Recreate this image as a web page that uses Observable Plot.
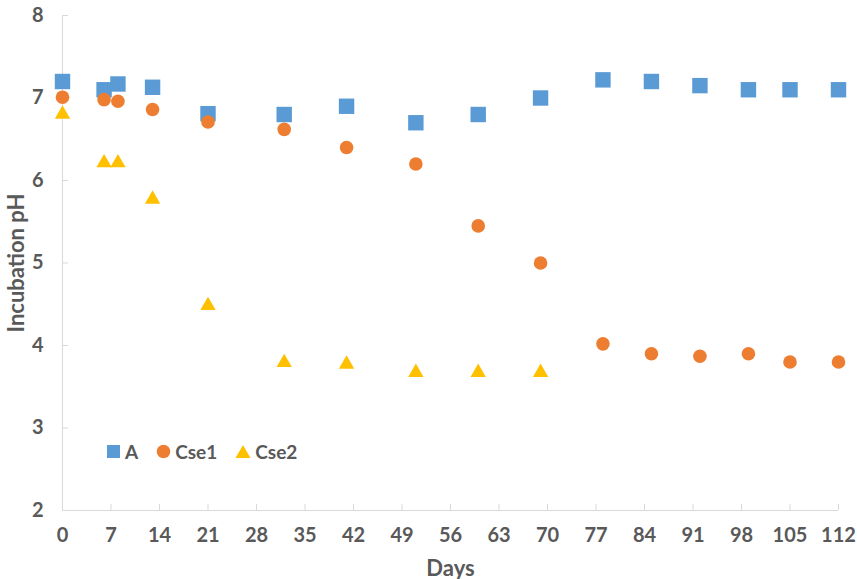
<!DOCTYPE html>
<html>
<head>
<meta charset="utf-8">
<script src="https://cdn.jsdelivr.net/npm/d3@7"></script>
<script src="https://cdn.jsdelivr.net/npm/@observablehq/plot@0.6"></script>
<style>
  html, body { margin: 0; padding: 0; background: #fff; }
  #wrap { position: relative; width: 857px; height: 579px; font-family: Lato, "Open Sans", sans-serif; }
  #legend { position: absolute; left: 106px; top: 440px; display: flex; align-items: center; font: bold 19px Lato, "Open Sans", sans-serif; color: #595959; }
  #legend .item { display: flex; align-items: center; margin-right: 18px; }
  #legend svg { margin-right: 4px; }
</style>
</head>
<body>
<div id="wrap"><div id="legend"></div></div>
<script>
// Data
const daysA = [0, 6, 8, 13, 21, 32, 41, 51, 60, 69, 78, 85, 92, 99, 105, 112];
const phA   = [7.20, 7.10, 7.17, 7.13, 6.81, 6.80, 6.90, 6.70, 6.80, 7.00, 7.22, 7.20, 7.15, 7.10, 7.10, 7.10];
const daysCse1 = [0, 6, 8, 13, 21, 32, 41, 51, 60, 69, 78, 85, 92, 99, 105, 112];
const phCse1   = [7.01, 6.98, 6.96, 6.86, 6.71, 6.62, 6.40, 6.20, 5.45, 5.00, 4.02, 3.90, 3.87, 3.90, 3.80, 3.80];
const daysCse2 = [0, 6, 8, 13, 21, 32, 41, 51, 60, 69];
const phCse2   = [6.83, 6.24, 6.24, 5.80, 4.51, 3.82, 3.80, 3.70, 3.70, 3.70];
const seriesNames = ["A", "Cse1", "Cse2"];
const seriesColors = ["#5B9BD5", "#ED7D31", "#FFC000"];
const xTicks = [0, 7, 14, 21, 28, 35, 42, 49, 56, 63, 70, 77, 84, 91, 98, 105, 112];
const yTicks = [2, 3, 4, 5, 6, 7, 8];

const toRows = (xs, ys) => xs.map((d, i) => ({day: d, ph: ys[i]}));
const A = toRows(daysA, phA);
const C1 = toRows(daysCse1, phCse1);
const C2 = toRows(daysCse2, phCse2);

const axisColor = "#d9d9d9";
const textColor = "#595959";

const chart = Plot.plot({
  width: 857,
  height: 579,
  marginLeft: 62,
  marginRight: 19,
  marginTop: 15,
  marginBottom: 69,
  style: {fontFamily: "Lato, 'Open Sans', sans-serif", fontSize: "20px", fontWeight: "bold", color: textColor, background: "white"},
  x: {domain: [0, 112]},
  y: {domain: [2, 8]},
  marks: [
    Plot.ruleX([0], {stroke: axisColor, strokeWidth: 1}),
    Plot.ruleY([2], {stroke: axisColor, strokeWidth: 1}),
    // inner tick marks
    Plot.axisX(xTicks, {tickSize: 6, dy: -6, tickFormat: () => "", label: null, stroke: axisColor}),
    Plot.axisY(yTicks, {tickSize: 6, dx: 6, tickFormat: () => "", label: null, stroke: axisColor}),
    // tick labels
    Plot.axisX(xTicks, {tickSize: 0, tickPadding: 17, tickFormat: d => String(d), fill: textColor, fontSize: 20, fontWeight: "bold", label: null}),
    Plot.axisY(yTicks, {tickSize: 0, tickPadding: 19, tickFormat: d => String(d), fill: textColor, fontSize: 20, fontWeight: "bold", label: null}),
    // axis titles
    Plot.axisX(xTicks, {tickSize: 0, tickFormat: () => "", fill: textColor, fontSize: 22, fontWeight: "bold",
      label: "Days", labelAnchor: "center", labelArrow: "none", labelOffset: 65}),
    Plot.axisY(yTicks, {tickSize: 0, tickFormat: () => "", fill: textColor, fontSize: 22, fontWeight: "bold",
      label: "Incubation pH", labelAnchor: "center", labelArrow: "none", labelOffset: 54}),
    Plot.dot(A, {x: "day", y: "ph", symbol: "square", r: 8.7, fill: seriesColors[0]}),
    Plot.dot(C1, {x: "day", y: "ph", symbol: "circle", r: 6.8, fill: seriesColors[1]}),
    Plot.dot(C2, {x: "day", y: "ph", symbol: "triangle", r: 5.7, dy: 2.2, fill: seriesColors[2]})
  ]
});
chart.style.position = "absolute";
chart.style.left = "0";
chart.style.top = "0";
const wrap = document.getElementById("wrap");
wrap.insertBefore(chart, wrap.firstChild);

// Legend (HTML)
const legend = document.getElementById("legend");
const shapes = [
  `<svg width="15" height="15"><rect x="1" y="1" width="13" height="13" fill="${seriesColors[0]}"/></svg>`,
  `<svg width="15" height="15"><circle cx="7.5" cy="7.5" r="6.8" fill="${seriesColors[1]}"/></svg>`,
  `<svg width="16" height="15"><path d="M8,1 L15.5,14 L0.5,14 Z" fill="${seriesColors[2]}"/></svg>`
];
seriesNames.forEach((name, i) => {
  const item = document.createElement("div");
  item.className = "item";
  item.innerHTML = shapes[i] + `<span>${name}</span>`;
  legend.appendChild(item);
});
</script>
</body>
</html>
